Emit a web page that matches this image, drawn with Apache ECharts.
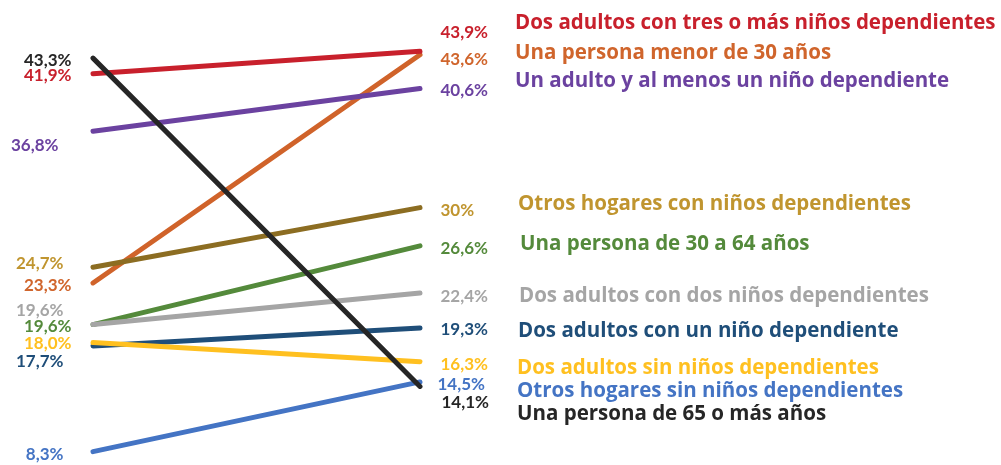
<!DOCTYPE html>
<html>
<head>
<meta charset="utf-8" />
<title></title>
<script src="https://cdn.jsdelivr.net/npm/echarts@6/dist/echarts.min.js"></script>
</head>
<body style="margin:0;background:#fff;">
<div id="chart" style="width:1001px;height:465px;"></div>
<script>
var names = ['Una persona de 65 o más años', 'Dos adultos con tres o más niños dependientes',
  'Un adulto y al menos un niño dependiente', 'Otros hogares con niños dependientes',
  'Una persona menor de 30 años', 'Dos adultos con dos niños dependientes',
  'Una persona de 30 a 64 años', 'Dos adultos sin niños dependientes',
  'Dos adultos con un niño dependiente', 'Otros hogares sin niños dependientes'];
var leftValues = [43.3, 41.9, 36.8, 24.7, 23.3, 19.6, 19.6, 18.0, 17.7, 8.3];
var rightValues = [14.1, 43.9, 40.6, 30.0, 43.6, 22.4, 26.6, 16.3, 19.3, 14.5];
var leftText = ['43,3%', '41,9%', '36,8%', '24,7%', '23,3%', '19,6%', '19,6%', '18,0%', '17,7%', '8,3%'];
var rightText = ['14,1%', '43,9%', '40,6%', '30%', '43,6%', '22,4%', '26,6%', '16,3%', '19,3%', '14,5%'];

var lineColors = ['#262626', '#C8202C', '#6B42A0', '#8C6D22', '#D0632A', '#A5A5A5', '#548A3B', '#FFC020', '#1F4E79', '#4474C4'];
var textColors = ['#262626', '#C8202C', '#6B42A0', '#C0952F', '#D0652C', '#A5A5A5', '#548A3B', '#FFC020', '#1F4E79', '#4474C4'];

// label placement (px)
var leftOff = [[-16, 2], [-16, 2], [-29, 14], [-24, -4], [-16, 3], [-24, -14], [-16, 2], [-16, 1], [-24, 16], [-24, 3]];
var rightOff = [[16, 16], [15, -19], [15, 2], [15, 3], [15, 5], [15, 3], [15, 3], [15, 3], [15, 2], [12, 3]];
var nameOff = [[97, 28], [95, -28], [95, -7], [98, -3], [95, -2], [99, 3], [100, -2], [97, 6], [98, 3], [97, 9]];

var series = names.map(function (n, i) {
  return {
    name: n,
    type: 'line',
    symbol: 'circle',
    symbolSize: 1,
    z: 10 - i,
    itemStyle: { color: lineColors[i] },
    lineStyle: { width: 5, cap: 'round', color: lineColors[i] },
    data: [
      { value: leftValues[i], label: { show: true, position: 'left', offset: leftOff[i], formatter: leftText[i] } },
      { value: rightValues[i], label: { show: true, position: 'right', offset: rightOff[i], formatter: rightText[i] } }
    ],
    label: { color: textColors[i], fontFamily: 'Lato', fontWeight: 'bold', fontSize: 17 },
    endLabel: {
      show: true, formatter: n, distance: 0, offset: nameOff[i], align: 'left',
      color: textColors[i], fontFamily: 'Open Sans', fontWeight: 'bold', fontSize: 20.5
    },
    emphasis: { disabled: true }
  };
});

var chart = echarts.init(document.getElementById('chart'));
chart.setOption({
  animation: false,
  grid: { left: 93, right: 581, top: 39, bottom: 10 },
  xAxis: { type: 'category', data: ['antes', 'después'], boundaryGap: false, show: false },
  yAxis: { type: 'value', min: 8, max: 45, show: false },
  series: series
});
</script>
</body>
</html>
